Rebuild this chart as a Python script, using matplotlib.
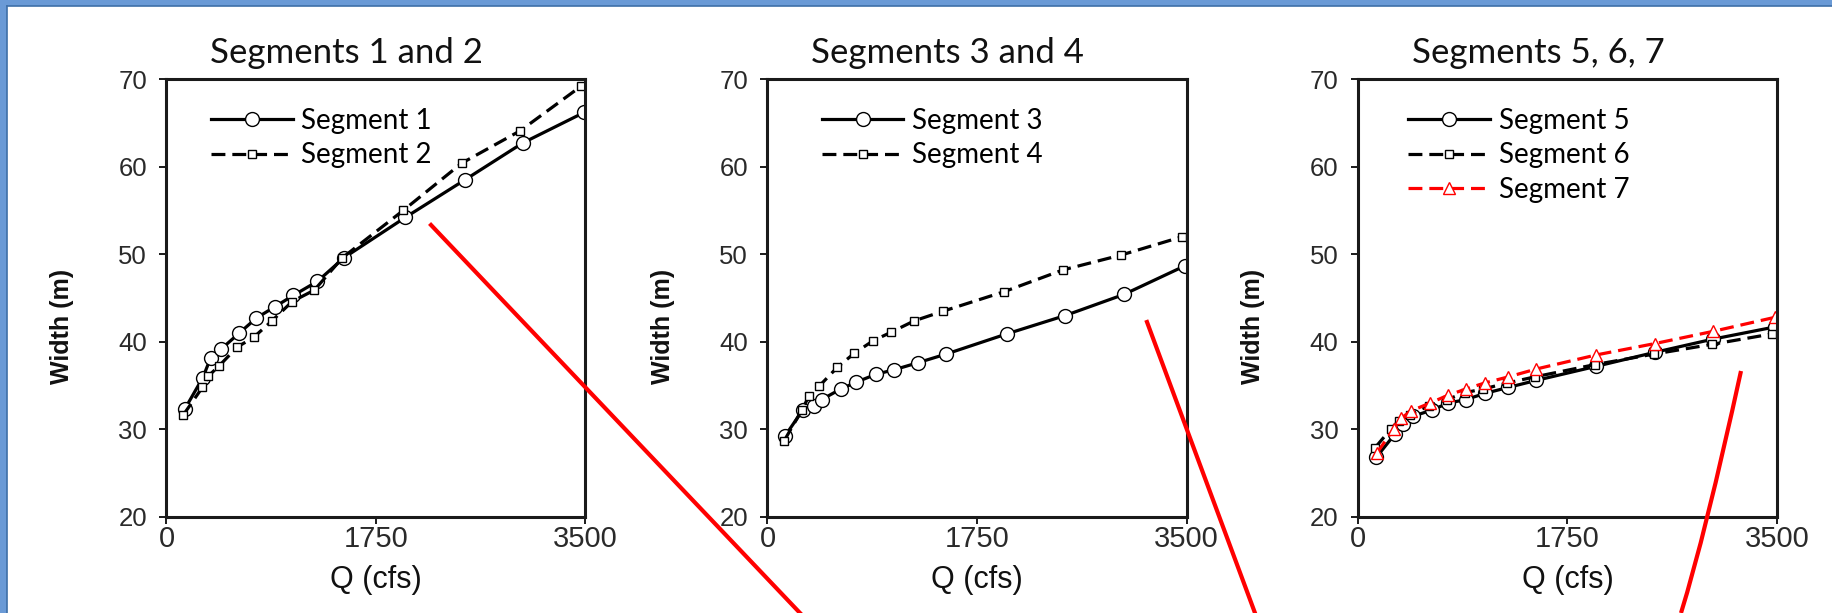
import matplotlib
matplotlib.use("Agg")
import matplotlib.pyplot as plt
from matplotlib.lines import Line2D
from matplotlib.patches import Rectangle, PathPatch
from matplotlib.path import Path

plt.rcParams['lines.scale_dashes'] = False

# Data (Q in cfs, width in m)
seg1_q = [152, 303, 370, 459, 608, 750, 905, 1060, 1261, 1483, 1995, 2494, 2976, 3491]
seg1_w = [32.3, 35.9, 38.2, 39.2, 41.0, 42.7, 44.0, 45.3, 46.9, 49.6, 54.2, 58.5, 62.7, 66.2]
seg2_q = [138, 300, 350, 436, 591, 727, 882, 1050, 1235, 1470, 1978, 2467, 2956, 3465]
seg2_w = [31.6, 34.8, 36.1, 37.2, 39.4, 40.5, 42.4, 44.6, 45.9, 49.6, 55.0, 60.4, 64.1, 69.2]

seg3_q = [149, 294, 386, 452, 610, 743, 907, 1056, 1254, 1492, 1998, 2487, 2976, 3491]
seg3_w = [29.3, 32.2, 32.7, 33.4, 34.6, 35.4, 36.3, 36.8, 37.6, 38.6, 40.9, 43.0, 45.4, 48.7]
seg4_q = [139, 287, 346, 429, 584, 726, 880, 1033, 1227, 1468, 1972, 2467, 2953, 3465]
seg4_w = [28.7, 32.2, 33.8, 34.9, 37.1, 38.7, 40.1, 41.1, 42.4, 43.5, 45.7, 48.2, 49.9, 52.0]

seg5_q = [152, 310, 373, 458, 616, 752, 900, 1058, 1257, 1491, 1990, 2480, 2963, 3484]
seg5_w = [26.8, 29.5, 30.6, 31.5, 32.2, 33.0, 33.4, 34.1, 34.8, 35.6, 37.2, 38.8, 40.3, 41.7]
seg6_q = [142, 278, 341, 436, 594, 742, 894, 1042, 1248, 1478, 1980, 2473, 2953, 3459]
seg6_w = [27.9, 30.1, 31.0, 31.7, 32.7, 33.4, 34.2, 34.6, 35.3, 36.0, 37.4, 38.6, 39.7, 40.9]
seg7_q = [158, 300, 363, 442, 600, 752, 900, 1058, 1257, 1491, 1990, 2480, 2969, 3484]
seg7_w = [27.3, 30.1, 31.3, 32.1, 33.0, 33.9, 34.6, 35.3, 36.0, 36.9, 38.5, 39.8, 41.2, 42.8]

titles = ["Segments 1 and 2", "Segments 3 and 4", "Segments 5, 6, 7"]
x_ticks = [0, 1750, 3500]
y_ticks = [20, 30, 40, 50, 60, 70]

# red pointer lines drawn over the figure (pixels from top-left)
pointer1 = [(431, 225), (800, 613)]
pointer2 = [(1147, 322), (1255, 613)]
pointer3 = [(1741, 371), (1705, 536), (1681, 613)]

W, H = 1833, 613
fig = plt.figure(figsize=(W / 100, H / 100), dpi=100)
fig.patch.set_facecolor('white')

LBL = 'Liberation Sans'
CAL = 'Lato'

lefts = [166.5, 767.5, 1358]
ax_w = 419
ax_top, ax_bot = 79, 517


def fx(px):
    return px / W


def fy(py):
    return 1 - py / H


axes = []
for left in lefts:
    ax = fig.add_axes([fx(left), fy(ax_bot), ax_w / W, (ax_bot - ax_top) / H])
    ax.set_xlim(0, 3500)
    ax.set_ylim(20, 70)
    ax.set_xticks(x_ticks)
    ax.set_yticks(y_ticks)
    for s in ax.spines.values():
        s.set_linewidth(2.2)
        s.set_color('#1a1a1a')
    ax.tick_params(axis='both', direction='out', length=5, width=1.4, color='#1a1a1a')
    ax.tick_params(axis='x', labelsize=21, pad=1)
    ax.tick_params(axis='y', labelsize=18.5, pad=9)
    for lab in ax.get_xticklabels() + ax.get_yticklabels():
        lab.set_fontfamily(LBL)
        lab.set_color('#2a2a2a')
    ax.text(0.43, 1.037, titles[len(axes)], transform=ax.transAxes, ha='center', va='baseline',
            fontsize=25, family=CAL, color='#111111')
    ax.set_ylabel('Width (m)', family=LBL, fontweight='bold', fontsize=18, color='#111111')
    ax.yaxis.set_label_coords(-92.5 / ax_w, 0.434)
    ax.set_xlabel('Q (cfs)', family=LBL, fontsize=22, color='#111111', labelpad=0)
    ax.xaxis.set_label_coords(0.5, -(580 - ax_bot) / (ax_bot - ax_top))
    ax.xaxis.label.set_va('center')
    axes.append(ax)

dash = (0, (10, 5))
circ = dict(marker='o', markersize=10, markerfacecolor='white', markeredgecolor='black', markeredgewidth=1.0)
sq = dict(marker='s', markersize=6.3, markerfacecolor='white', markeredgecolor='black', markeredgewidth=1.0)
tri = dict(marker='^', markersize=9, markerfacecolor='white', markeredgecolor='red', markeredgewidth=1.0)

a1, a2, a3 = axes
a1.plot(seg1_q, seg1_w, color='black', lw=2.3, label='Segment 1', **circ)
a1.plot(seg2_q, seg2_w, color='black', lw=2.3, ls=dash, label='Segment 2', **sq)
a2.plot(seg3_q, seg3_w, color='black', lw=2.3, label='Segment 3', **circ)
a2.plot(seg4_q, seg4_w, color='black', lw=2.3, ls=dash, label='Segment 4', **sq)
a3.plot(seg5_q, seg5_w, color='black', lw=2.3, label='Segment 5', **circ)
a3.plot(seg6_q, seg6_w, color='black', lw=2.3, ls=dash, label='Segment 6', **sq)
a3.plot(seg7_q, seg7_w, color='red', lw=2.3, ls=dash, label='Segment 7', **tri)

leg_x = [0.106, 0.129, 0.12]
for ax, lx in zip(axes, leg_x):
    ax.legend(loc='upper left', bbox_to_anchor=(lx, 0.934), frameon=False, borderpad=0,
              borderaxespad=0, handlelength=2.95, handletextpad=0.3, labelspacing=0.3,
              prop={'family': CAL, 'size': 20})

# blue frame (top and left edges)
fig.add_artist(Rectangle((0, fy(6)), 1, 6 / H, transform=fig.transFigure,
                         facecolor='#6a9ad6', edgecolor='none', zorder=5))
fig.add_artist(Rectangle((0, 0), fx(7), 1, transform=fig.transFigure,
                         facecolor='#6a9ad6', edgecolor='none', zorder=5))
fig.add_artist(Line2D([fx(7), 1], [fy(6), fy(6)], transform=fig.transFigure,
                      color='#3e6fa8', lw=1.2, zorder=6))
fig.add_artist(Line2D([fx(7), fx(7)], [0, fy(6)], transform=fig.transFigure,
                      color='#3e6fa8', lw=1.2, zorder=6))

# red pointer lines
for p in (pointer1, pointer2):
    fig.add_artist(Line2D([fx(p[0][0]), fx(p[1][0])], [fy(p[0][1]), fy(p[1][1])],
                          transform=fig.transFigure, color='red', lw=3, zorder=10))
verts = [(fx(x), fy(y)) for x, y in pointer3]
fig.add_artist(PathPatch(Path(verts, [Path.MOVETO, Path.CURVE3, Path.CURVE3]),
                         transform=fig.transFigure, facecolor='none', edgecolor='red',
                         lw=3, zorder=10))

fig.savefig('out.png', dpi=100, facecolor='white')
